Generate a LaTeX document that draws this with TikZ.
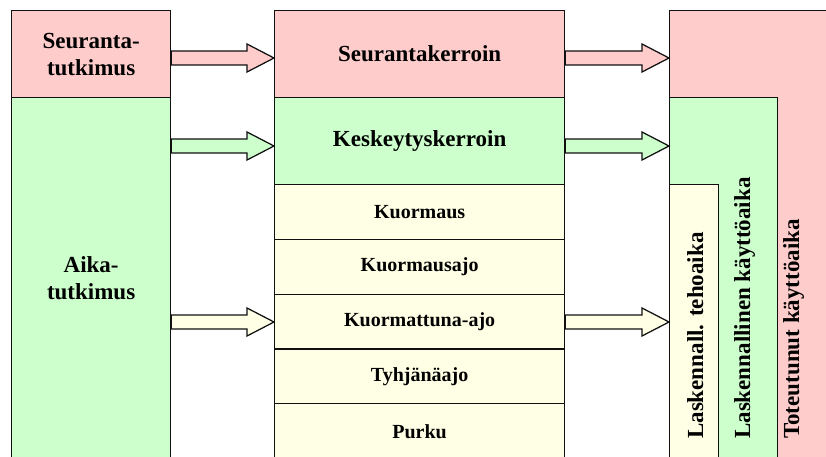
\documentclass[tikz,border=0pt]{standalone}
\usepackage{fontspec}
\setmainfont{Liberation Serif}
\usetikzlibrary{calc}
\definecolor{pinkc}{HTML}{FFCCCC}
\definecolor{greenc}{HTML}{CCFFCC}
\definecolor{creamc}{HTML}{FFFFE6}
\definecolor{linec}{HTML}{101010}
\tikzset{
  box/.style={draw=linec, line width=1.25pt, rectangle, anchor=north west, inner sep=0pt, align=center, font=\bfseries\fontsize{23}{27}\selectfont},
  smallbox/.style={box, fill=creamc, font=\bfseries\fontsize{20}{24}\selectfont},
  vtext/.style={rotate=90, anchor=base west, inner sep=0pt, font=\bfseries\fontsize{23}{27}\selectfont},
  arrowsty/.style={draw=linec, line width=1.25pt, line join=miter}
}
\newcommand\blockarr[3]{%
  \draw[arrowsty, fill=#1] let \p1=(#2), \p2=(#3) in
    (\x1,\y2+7pt) -- (\x2-27pt,\y2+7pt) -- (\x2-27pt,\y2+14pt) -- (\x2,\y2)
    -- (\x2-27pt,\y2-14pt) -- (\x2-27pt,\y2-7pt) -- (\x1,\y2-7pt) -- cycle;}
\begin{document}
\begin{tikzpicture}[x=1pt, y=-1pt]
\useasboundingbox (0,0) rectangle (826,457);
\clip (0,0) rectangle (826,457);
% left column
\node[box, fill=pinkc, minimum width=159pt, minimum height=87pt] (seu) at (11,10) {Seuranta-\\tutkimus};
\node[box, fill=greenc, minimum width=159pt, minimum height=361pt] (aika) at (11,97) {Aika-\\tutkimus};
% middle column
\node[box, fill=pinkc, minimum width=290pt, minimum height=87pt] (seuk) at (274,10) {Seurantakerroin};
\node[box, fill=greenc, minimum width=290pt, minimum height=87pt] (kesk) at (274,97) {Keskeytyskerroin};
\node[smallbox, minimum width=290pt, minimum height=54.8pt] (k1) at (274,184) {Kuormaus};
\node[smallbox, minimum width=290pt, minimum height=54.8pt] (k2) at (274,238.8) {Kuormausajo};
\node[smallbox, minimum width=290pt, minimum height=54.8pt] (k3) at (274,293.6) {Kuormattuna-ajo};
\node[smallbox, minimum width=290pt, minimum height=54.8pt] (k4) at (274,348.4) {Tyhjänäajo};
\node[smallbox, minimum width=290pt, minimum height=54.8pt] (k5) at (274,403.2) {Purku};
% right column
\node[box, fill=pinkc, minimum width=165pt, minimum height=450pt] (tot) at (669,10) {};
\node[box, fill=greenc, minimum width=108pt, minimum height=363pt] (lk) at (669,97) {};
\node[box, fill=creamc, minimum width=48.5pt, minimum height=274pt] (lt) at (669,184) {};
\node[vtext] (ttot) at (799,439) {Toteutunut käyttöaika};
\node[vtext] (tlk) at (750,439) {Laskennallinen käyttöaika};
\node[vtext] (tlt) at (703,439) {Laskennall. tehoaika};
% arrow tips
\coordinate (t1) at (274,58);
\coordinate (t2) at (274,146);
\coordinate (t3) at (274,322);
\coordinate (u1) at (669,58);
\coordinate (u2) at (669,146);
\coordinate (u3) at (669,322);
\blockarr{pinkc}{seu.east}{t1}
\blockarr{greenc}{aika.east}{t2}
\blockarr{creamc}{aika.east}{t3}
\blockarr{pinkc}{seuk.east}{u1}
\blockarr{greenc}{kesk.east}{u2}
\blockarr{creamc}{k3.east}{u3}
\end{tikzpicture}
\end{document}
